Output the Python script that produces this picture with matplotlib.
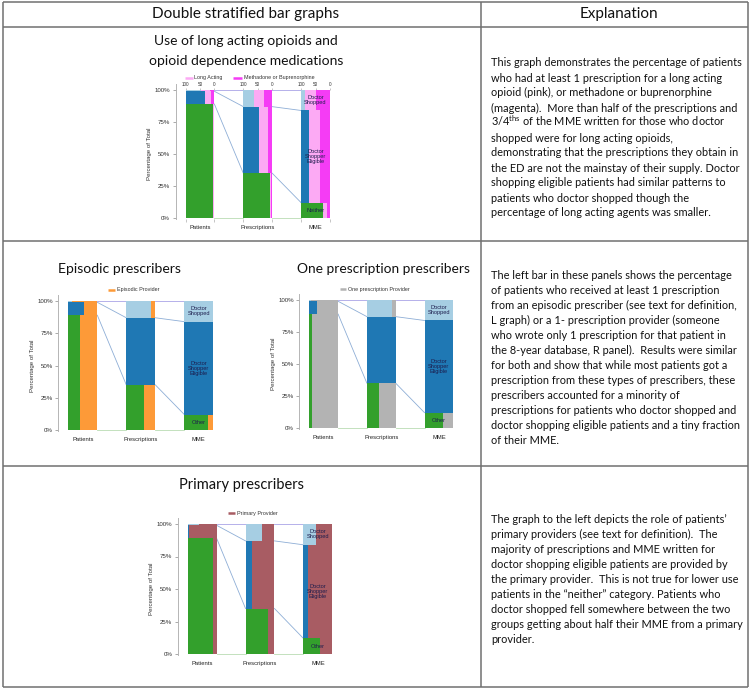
import matplotlib
matplotlib.use("Agg")
import matplotlib.pyplot as plt
import matplotlib.transforms as mtransforms

plt.rcParams['mathtext.fontset'] = 'custom'
plt.rcParams['mathtext.rm'] = 'Lato'
plt.rcParams['mathtext.it'] = 'Lato:italic'
plt.rcParams['mathtext.bf'] = 'Lato:bold'

W, H = 750, 689

# ---------------- data ----------------
categories = ["Patients", "Prescriptions", "MME"]
share_neither = [0.89, 0.35, 0.12]
share_eligible = [0.10, 0.52, 0.72]
share_shopped = [0.01, 0.13, 0.16]

# panel 1: fraction of each group's bar (by category)
long_acting_neither = [0.03, 0.05, 0.14]
long_acting_eligible = [0.22, 0.31, 0.38]
long_acting_shopped = [0.30, 0.35, 0.37]
methadone_neither = [0.02, 0.03, 0.115]
methadone_eligible = [0.12, 0.14, 0.345]
methadone_shopped = [0.15, 0.28, 0.48]

episodic_neither = [0.59, 0.38, 0.17]
episodic_eligible = [0.47, 0.02, 0.0]
episodic_shopped = [0.88, 0.14, 0.0]

one_rx_neither = [0.89, 0.57, 0.37]
one_rx_eligible = [0.72, 0.0, 0.0]
one_rx_shopped = [0.95, 0.14, 0.0]

primary_neither = [0.11, 0.23, 0.42]
primary_eligible = [0.94, 0.77, 0.84]
primary_shopped = [0.61, 0.43, 0.56]

y_ticks = [0, 0.25, 0.5, 0.75, 1.0]
y_tick_labels = ["0%", "25%", "50%", "75%", "100%"]
top_tick_labels = ["100", "50", "0"]

explain1 = [
    "This graph demonstrates the percentage of patients",
    "who had at least 1 prescription for a long acting",
    "opioid (pink), or methadone or buprenorphine",
    "(magenta).  More than half of the prescriptions and",
    r"3/4$^{\mathrm{ths}}$ of the MME written for those who doctor",
    "shopped were for long acting opioids,",
    "demonstrating that the prescriptions they obtain in",
    "the ED are not the mainstay of their supply. Doctor",
    "shopping eligible patients had similar patterns to",
    "patients who doctor shopped though the",
    "percentage of long acting agents was smaller.",
]
explain2 = [
    "The left bar in these panels shows the percentage",
    "of patients who received at least 1 prescription",
    "from an episodic prescriber (see text for definition,",
    "L graph) or a 1- prescription provider (someone",
    "who wrote only 1 prescription for that patient in",
    "the 8-year database, R panel).  Results were similar",
    "for both and show that while most patients got a",
    "prescription from these types of prescribers, these",
    "prescribers accounted for a minority of",
    "prescriptions for patients who doctor shopped and",
    "doctor shopping eligible patients and a tiny fraction",
    "of their MME.",
]
explain3 = [
    "The graph to the left depicts the role of patients\u2019",
    "primary providers (see text for definition).  The",
    "majority of prescriptions and MME written for",
    "doctor shopping eligible patients are provided by",
    "the primary provider.  This is not true for lower use",
    "patients in the \u201cneither\u201d category. Patients who",
    "doctor shopped fell somewhere between the two",
    "groups getting about half their MME from a primary",
    "provider.",
]

# ---------------- styles ----------------
GREEN, BLUE, LBLUE = '#33a02c', '#1f78b4', '#a6cee3'
PINK, MAGENTA = '#fcaaf4', '#f53cf5'
ORANGE, GRAY, RED = '#fd9a38', '#b3b3b3', '#a85c63'
LINKC = '#8eaed6'
LABC = '#1c1c4c'
CHART_FONT = 'Liberation Sans'
TEXT_FONT = 'Lato'

fig = plt.figure(figsize=(7.5, 6.89), dpi=100)
bg = fig.add_axes([0, 0, 1, 1])
bg.set_xlim(0, W)
bg.set_ylim(H, 0)
bg.axis('off')
renderer = fig.canvas.get_renderer()

# table lines
lc, lw = '#707070', 1.1
for y in [1.5, 27, 241, 466, 687]:
    bg.plot([3, 748], [y, y], color=lc, lw=lw, solid_capstyle='butt')
for x in [3, 481, 748]:
    bg.plot([x, x], [1.5, 687], color=lc, lw=lw, solid_capstyle='butt')


def fit_size(s, width_px):
    t = bg.text(0, 0, s, fontsize=10, family=TEXT_FONT)
    w = t.get_window_extent(renderer).width
    t.remove()
    return 10 * width_px / w


# header
hs = fit_size("Double stratified bar graphs", 187)
bg.text(245.5, 18, "Double stratified bar graphs", fontsize=hs, family=TEXT_FONT,
        ha='center', va='baseline', color='#111')
bg.text(619, 18, "Explanation", fontsize=hs, family=TEXT_FONT,
        ha='center', va='baseline', color='#111')

# titles
ts = fit_size("opioid dependence medications", 194)
bg.text(246, 45, "Use of long acting opioids and", fontsize=ts, family=TEXT_FONT,
        ha='center', va='baseline', color='#111')
bg.text(246, 65, "opioid dependence medications", fontsize=ts, family=TEXT_FONT,
        ha='center', va='baseline', color='#111')
for s, cx, y, wpx in [("Episodic prescribers", 119.5, 273, 123),
                      ("One prescription prescribers", 383.5, 273, 173),
                      ("Primary prescribers", 241.5, 489.5, 125)]:
    bg.text(cx, y, s, fontsize=fit_size(s, wpx), family=TEXT_FONT,
            ha='center', va='baseline', color='#111')

# explanation text
es = fit_size(explain1[0], 249)
for lines, y0 in [(explain1, 66.5), (explain2, 279), (explain3, 523)]:
    for i, s in enumerate(lines):
        bg.text(491, y0 + 15 * i, s, fontsize=es, family=TEXT_FONT,
                ha='left', va='baseline', color='#111')


def legend_item(x0, x1, y, color, label, tx):
    bg.plot([x0, x1], [y, y], color=color, lw=1.8, solid_capstyle='butt')
    bg.text(tx, y, label, fontsize=3.9, family=CHART_FONT, ha='left',
            va='center', color='#333')


def panel(p_left, m_right, y0, y100, overlays, bottom_label, top_axis=False):
    unit = (m_right - p_left) / 5.0
    xl, xr = -0.5 - 0.345, 4.5 + 0.03
    yb, yt = -0.01, 1.045
    left_px = p_left - 0.345 * unit
    right_px = m_right + 0.03 * unit
    ppu = (y0 - y100)
    bottom_px = y0 + 0.01 * ppu
    top_px = y0 - yt * ppu
    ax = fig.add_axes([left_px / W, 1 - bottom_px / H,
                       (right_px - left_px) / W, (bottom_px - top_px) / H])
    ax.set_xlim(xl, xr)
    ax.set_ylim(yb, yt)
    ax.patch.set_alpha(0)

    base_shares = [share_neither, share_eligible, share_shopped]
    base_colors = [GREEN, BLUE, LBLUE]
    bounds = []
    for i in range(3):
        c = 2 * i
        left, right = c - 0.5, c + 0.5
        b = 0.0
        bl = [0.0]
        for g in range(3):
            h = base_shares[g][i]
            ax.bar(left, h, width=1.0, bottom=b, align='edge',
                   color=base_colors[g], linewidth=0, zorder=2)
            off = 0.0
            for shares, col in overlays:
                s = shares[g][i]
                if s > 0:
                    ax.bar(right - off - s, h, width=s, bottom=b, align='edge',
                           color=col, linewidth=0, zorder=3)
                off += s
            b += h
            bl.append(b)
        bounds.append(bl)
    link_cols = ['#b9dcb3', LINKC, LINKC, '#aaa3e6']
    for i in range(2):
        for k in range(4):
            ax.plot([2 * i + 0.5, 2 * (i + 1) - 0.5],
                    [bounds[i][k], bounds[i + 1][k]],
                    color=link_cols[k], lw=0.6, zorder=1)
    # MME labels
    mb = bounds[2]
    labs = [bottom_label, "Doctor\nShopper\nEligible", "Doctor\nShopped"]
    for g in range(3):
        ax.text(4, (mb[g] + mb[g + 1]) / 2, labs[g], ha='center', va='center',
                fontsize=4.1, family=CHART_FONT, color=LABC, linespacing=1.0,
                zorder=5)

    for s in ['top', 'right', 'bottom']:
        ax.spines[s].set_visible(False)
    ax.spines['left'].set_color('#b5b5b5')
    ax.spines['left'].set_linewidth(0.7)
    ax.set_yticks(y_ticks, y_tick_labels, fontsize=4.4, family=CHART_FONT,
                  color='#333')
    ax.tick_params(axis='y', length=2.5, width=0.5, color='#888', pad=1.5)
    ax.set_xticks([0, 2, 4], categories, fontsize=4.2, family=CHART_FONT,
                  color='#222')
    ax.tick_params(axis='x', which='major', length=0, pad=3.8)
    ax.set_ylabel("Percentage of Total", fontsize=4.4, family=CHART_FONT,
                  color='#333')
    ax_w = right_px - left_px
    ax.yaxis.set_label_coords(-23.5 / ax_w, 0.5,
                              transform=mtransforms.blended_transform_factory(
                                  ax.transAxes, ax.transData))
    if top_axis:
        pos = []
        for c in [0, 2, 4]:
            pos += [c - 0.5, c, c + 0.5]
        ax.set_xticks(pos, minor=True)
        ax.tick_params(axis='x', which='minor', length=2, width=0.4,
                       color='#999')
        loc = (1.0 - yb) / (yt - yb)
        sec = ax.secondary_xaxis(loc)
        sec.set_xticks(pos, top_tick_labels * 3, fontsize=3.3,
                       family=CHART_FONT, color='#333')
        sec.tick_params(direction='out', length=1.6, width=0.4, pad=0.5,
                        color='#999')
        for sp in sec.spines.values():
            sp.set_visible(False)
    return ax


# panel 1: long acting / methadone
panel(185.5, 330, 218, 90,
      [([methadone_neither, methadone_eligible, methadone_shopped], MAGENTA),
       ([long_acting_neither, long_acting_eligible, long_acting_shopped], PINK)],
      "Neither", top_axis=True)
legend_item(185, 193, 77.5, PINK, "Long Acting", 194.5)
legend_item(233, 242, 77.5, MAGENTA, "Methadone or Buprenorphine", 244.5)

# panel 2: episodic
panel(68.3, 213.3, 430, 301,
      [([episodic_neither, episodic_eligible, episodic_shopped], ORANGE)], "Other")
legend_item(108, 115, 290, ORANGE, "Episodic Provider", 117)

# panel 3: one prescription
panel(309.3, 453.3, 428, 300,
      [([one_rx_neither, one_rx_eligible, one_rx_shopped], GRAY)], "Other")
legend_item(340, 346, 289, GRAY, "One prescription Provider", 348)

# panel 4: primary
panel(187.7, 332.3, 654, 524,
      [([primary_neither, primary_eligible, primary_shopped], RED)], "Other")
legend_item(228, 235, 513, RED, "Primary Provider", 237)

fig.savefig("out.png", dpi=100)
